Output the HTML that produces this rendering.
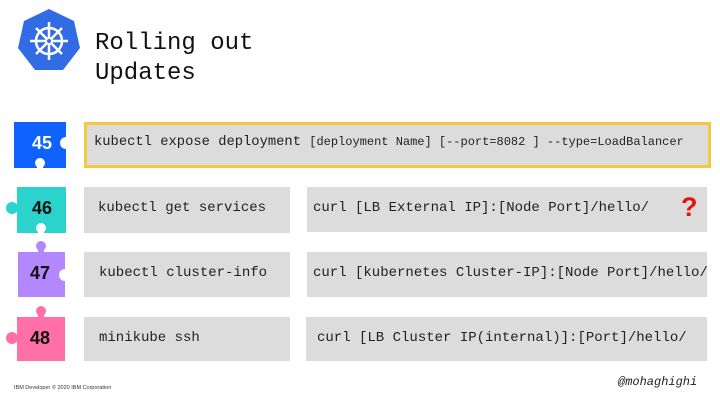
<!DOCTYPE html>
<html><head><style>
body{margin:0;width:720px;height:405px;background:#fff;position:relative;overflow:hidden;font-family:"Liberation Mono",monospace}
.a{position:absolute}
.box{position:absolute;background:#dcdcdc;box-sizing:border-box}
.t{position:absolute;font-size:14px;color:#222;white-space:nowrap}
.n{position:absolute;font-family:"Liberation Sans",sans-serif;font-weight:bold;font-size:18px;text-align:center}
</style></head><body>
<svg class="a" style="left:0;top:0" width="720" height="405">
<polygon points="49,9 74,21 80,48 63,70 35,70 18,48 24,21" fill="#326ce5"/>
<g stroke="#fff" stroke-width="2.5" fill="none">
<circle cx="49" cy="41" r="13"/>
<line x1="49" y1="22" x2="49" y2="60"/><line x1="30" y1="41" x2="68" y2="41"/>
<line x1="36" y1="28" x2="62" y2="54"/><line x1="62" y1="28" x2="36" y2="54"/>
</g><circle cx="49" cy="41" r="3" fill="#326ce5" stroke="#fff" stroke-width="2"/>
<rect x="14" y="122" width="52" height="46" fill="#0f62fe"/>
<circle cx="66" cy="143" r="6" fill="#fff"/>
<circle cx="40" cy="163" r="5" fill="#fff"/><rect x="37" y="164" width="6" height="5" fill="#fff"/>
<rect x="17" y="187" width="49" height="46" fill="#2ad4cc"/>
<circle cx="12" cy="208" r="6" fill="#2ad4cc"/>
<circle cx="41" cy="228" r="5" fill="#fff"/><rect x="38" y="229" width="6" height="5" fill="#fff"/>
<rect x="18" y="252" width="47" height="45" fill="#b388ff"/>
<circle cx="41" cy="246" r="5" fill="#b388ff"/><rect x="38" y="248" width="6" height="5" fill="#b388ff"/>
<circle cx="65" cy="275" r="6" fill="#fff"/>
<rect x="17" y="317" width="48" height="44" fill="#ff70a6"/>
<circle cx="41" cy="311" r="5" fill="#ff70a6"/><rect x="38" y="313" width="6" height="5" fill="#ff70a6"/>
<circle cx="12" cy="338" r="6" fill="#ff70a6"/>
</svg>
<div class="t" style="left:95px;top:29px;font-size:24px;line-height:30px;color:#111">Rolling out<br>Updates</div>
<div class="n" style="left:24px;top:133px;width:36px;color:#fff">45</div>
<div class="n" style="left:24px;top:198px;width:36px;color:#111">46</div>
<div class="n" style="left:22px;top:263px;width:36px;color:#111">47</div>
<div class="n" style="left:22px;top:328px;width:36px;color:#111">48</div>

<div class="box" style="left:84px;top:122px;width:627px;height:46px;border:3px solid #f5c842"></div>
<div class="t" style="left:94px;top:135px;font-size:13.8px">kubectl expose deployment <span style="font-size:12px">[deployment Name] [--port=8082 ] --type=LoadBalancer</span></div>

<div class="box" style="left:84px;top:187px;width:206px;height:46px"></div>
<div class="t" style="left:98px;top:200px">kubectl get services</div>
<div class="box" style="left:307px;top:187px;width:400px;height:45px"></div>
<div class="t" style="left:313px;top:200px">curl [LB External IP]:[Node Port]/hello/</div>
<div class="a" style="left:681px;top:192px;font:bold 27px 'Liberation Sans',sans-serif;color:#e8120c">?</div>

<div class="box" style="left:84px;top:252px;width:206px;height:45px"></div>
<div class="t" style="left:99px;top:265px">kubectl cluster-info</div>
<div class="box" style="left:307px;top:252px;width:400px;height:45px"></div>
<div class="t" style="left:313px;top:265px">curl [kubernetes Cluster-IP]:[Node Port]/hello/</div>

<div class="box" style="left:84px;top:317px;width:206px;height:44px"></div>
<div class="t" style="left:99px;top:330px">minikube ssh</div>
<div class="box" style="left:306px;top:317px;width:401px;height:44px"></div>
<div class="t" style="left:317px;top:330px">curl [LB Cluster IP(internal)]:[Port]/hello/</div>

<div class="t" style="left:618px;top:375px;font-size:12px;font-style:italic">@mohaghighi</div>
<div class="a" style="left:14px;top:385px;font:5.5px 'Liberation Sans',sans-serif;color:#333">IBM Developer © 2020 IBM Corporation</div>
</body></html>
